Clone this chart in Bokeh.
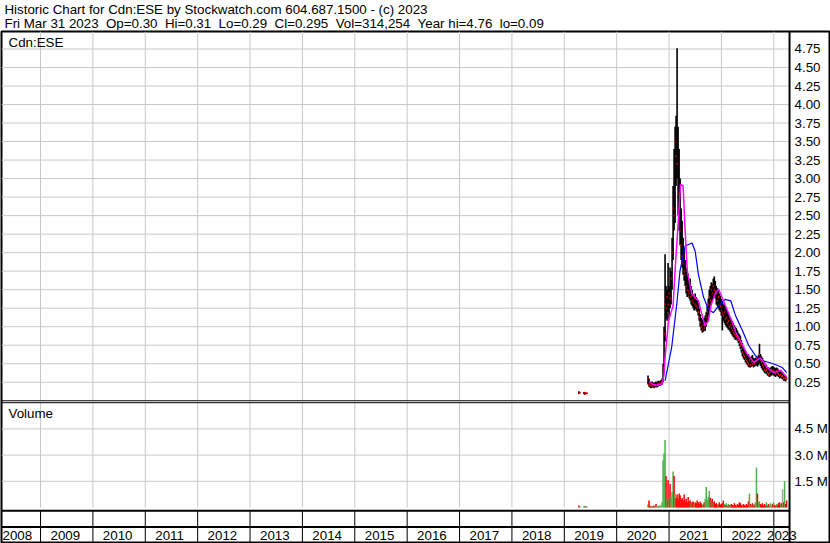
import pandas as pd
from bokeh.plotting import figure
from bokeh.layouts import column
from bokeh.models import (Range1d, LinearAxis, FixedTicker, PrintfTickFormatter,
                          Span, Label)
from bokeh.core.properties import value
from bokeh.embed import file_html
from bokeh.resources import INLINE

# ---------------- data ----------------
header_1 = "Historic Chart for Cdn:ESE by Stockwatch.com 604.687.1500 - (c) 2023"
header_2 = ("Fri Mar 31 2023\u00a0\u00a0Op=0.30\u00a0\u00a0Hi=0.31\u00a0\u00a0Lo=0.29\u00a0\u00a0"
            "Cl=0.295\u00a0\u00a0Vol=314,254\u00a0\u00a0Year hi=4.76\u00a0\u00a0lo=0.09")
symbol = "Cdn:ESE"

years = [2008, 2009, 2010, 2011, 2012, 2013, 2014, 2015, 2016, 2017, 2018, 2019,
         2020, 2021, 2022, 2023]
price_ticks = [0.25, 0.50, 0.75, 1.00, 1.25, 1.50, 1.75, 2.00, 2.25, 2.50, 2.75,
               3.00, 3.25, 3.50, 3.75, 4.00, 4.25, 4.50, 4.75]
vol_ticks = [1.5, 3.0, 4.5]          # millions of shares

# brief trading in spring 2019
blip_dates = ["2019-04-12", "2019-04-19", "2019-05-17", "2019-05-24", "2019-05-31", "2019-06-07"]
blip_hi = [0.13, 0.12, 0.12, 0.12, 0.11, 0.11]
blip_lo = [0.09, 0.10, 0.09, 0.08, 0.09, 0.09]
blip_cl = [0.10, 0.11, 0.10, 0.11, 0.10, 0.10]
blip_vol = [0.12, 0.08, 0.05, 0.10, 0.06, 0.08]

# weekly bars, Fri 2020-08-07 .. Fri 2023-03-31
week_hi = [0.34, 0.30, 0.26, 0.25, 0.26, 0.25, 0.24, 0.25, 0.26, 0.25,
           0.27, 0.26, 0.27, 0.28, 0.30, 0.50, 1.00, 1.98, 1.55, 1.50,
           1.86, 1.55, 1.80, 1.75, 2.20, 2.90, 3.40, 3.70, 3.85, 4.76,
           3.70, 3.40, 3.00, 2.60, 2.43, 2.20, 2.05, 1.90, 1.80, 1.75,
           1.72, 1.60, 1.65, 1.55, 1.50, 1.44, 1.42, 1.45, 1.40, 1.38,
           1.32, 1.25, 1.17, 1.12, 1.10, 1.08, 1.12, 1.15, 1.20, 1.28,
           1.38, 1.50, 1.55, 1.60, 1.58, 1.65, 1.68, 1.62, 1.55, 1.52,
           1.50, 1.45, 1.42, 1.38, 1.35, 1.30, 1.32, 1.28, 1.25, 1.22,
           1.20, 1.15, 1.12, 1.10, 1.08, 1.05, 1.02, 1.00, 0.98, 0.95,
           0.92, 0.90, 0.88, 0.82, 0.78, 0.74, 0.70, 0.68, 0.65, 0.63,
           0.63, 0.60, 0.58, 0.60, 0.62, 0.58, 0.57, 0.58, 0.60, 0.58,
           0.62, 0.77, 0.63, 0.60, 0.58, 0.55, 0.52, 0.50, 0.48, 0.46,
           0.45, 0.44, 0.45, 0.46, 0.47, 0.46, 0.45, 0.44, 0.45, 0.44,
           0.42, 0.41, 0.42, 0.40, 0.38, 0.36, 0.35, 0.33, 0.31]
week_lo = [0.22, 0.19, 0.18, 0.17, 0.18, 0.18, 0.17, 0.18, 0.19, 0.18,
           0.19, 0.20, 0.20, 0.21, 0.22, 0.25, 0.45, 0.80, 1.10, 1.08,
           1.20, 1.10, 1.25, 1.30, 1.50, 1.90, 2.30, 2.40, 2.90, 3.00,
           2.50, 2.30, 2.10, 1.90, 1.80, 1.70, 1.62, 1.55, 1.45, 1.40,
           1.42, 1.38, 1.35, 1.30, 1.28, 1.25, 1.22, 1.24, 1.22, 1.20,
           1.15, 1.08, 1.00, 0.95, 0.92, 0.93, 0.95, 0.94, 1.00, 1.05,
           1.12, 1.20, 1.28, 1.32, 1.35, 1.38, 1.40, 1.38, 1.30, 1.28,
           1.25, 1.22, 1.20, 1.15, 0.95, 1.08, 1.05, 1.02, 1.00, 0.98,
           0.96, 0.95, 0.93, 0.90, 0.88, 0.86, 0.84, 0.82, 0.83, 0.81,
           0.78, 0.74, 0.70, 0.65, 0.60, 0.57, 0.55, 0.52, 0.50, 0.48,
           0.46, 0.45, 0.45, 0.46, 0.47, 0.45, 0.46, 0.47, 0.48, 0.46,
           0.48, 0.50, 0.47, 0.44, 0.42, 0.40, 0.38, 0.37, 0.36, 0.34,
           0.33, 0.32, 0.33, 0.34, 0.35, 0.34, 0.33, 0.32, 0.34, 0.33,
           0.32, 0.30, 0.31, 0.30, 0.29, 0.27, 0.27, 0.26, 0.29]
week_cl = [0.30, 0.22, 0.21, 0.20, 0.22, 0.21, 0.20, 0.22, 0.21, 0.22,
           0.23, 0.22, 0.24, 0.24, 0.26, 0.45, 0.90, 1.30, 1.25, 1.40,
           1.30, 1.45, 1.38, 1.65, 2.00, 2.60, 2.50, 3.50, 3.30, 3.20,
           2.80, 2.60, 2.30, 2.10, 1.95, 1.85, 1.75, 1.70, 1.55, 1.50,
           1.48, 1.45, 1.40, 1.42, 1.35, 1.32, 1.38, 1.30, 1.28, 1.25,
           1.20, 1.12, 1.05, 1.00, 0.96, 1.02, 0.98, 1.05, 1.12, 1.20,
           1.30, 1.40, 1.35, 1.50, 1.45, 1.55, 1.50, 1.48, 1.45, 1.35,
           1.40, 1.30, 1.28, 1.22, 1.18, 1.15, 1.20, 1.10, 1.12, 1.05,
           1.08, 1.00, 1.02, 0.98, 0.95, 0.92, 0.90, 0.88, 0.86, 0.85,
           0.82, 0.78, 0.75, 0.70, 0.66, 0.62, 0.60, 0.56, 0.54, 0.52,
           0.50, 0.55, 0.48, 0.52, 0.50, 0.52, 0.50, 0.54, 0.58, 0.55,
           0.58, 0.62, 0.55, 0.52, 0.48, 0.45, 0.42, 0.40, 0.42, 0.38,
           0.36, 0.38, 0.40, 0.42, 0.40, 0.41, 0.38, 0.37, 0.40, 0.38,
           0.36, 0.34, 0.35, 0.33, 0.33, 0.30, 0.31, 0.30, 0.295]
week_vol = [0.17, 0.40, 0.08, 0.05, 0.10, 0.06, 0.12, 0.05, 0.20, 0.08,
            0.10, 0.05, 0.15, 0.10, 0.30, 2.70, 3.10, 3.87, 1.80, 0.45,
            1.56, 0.50, 1.35, 0.60, 0.90, 2.06, 1.80, 0.80, 0.55, 0.75,
            0.50, 0.80, 0.70, 0.45, 0.55, 0.40, 0.75, 0.35, 0.50, 0.30,
            0.60, 0.35, 0.40, 0.25, 0.30, 0.35, 0.20, 0.30, 0.25, 0.40,
            0.30, 0.20, 0.35, 0.25, 0.15, 0.20, 0.30, 0.50, 1.17, 0.45,
            0.60, 0.95, 0.55, 0.40, 0.50, 0.30, 0.35, 0.20, 0.25, 0.15,
            0.20, 0.30, 0.15, 0.20, 0.25, 0.40, 0.20, 0.15, 0.25, 0.10,
            0.20, 0.15, 0.10, 0.20, 0.15, 0.10, 0.25, 0.15, 0.10, 0.20,
            0.15, 0.30, 0.25, 0.15, 0.10, 0.20, 0.15, 0.10, 0.20, 0.15,
            0.35, 0.80, 0.20, 0.15, 0.25, 0.20, 0.15, 0.30, 2.29, 0.80,
            0.30, 0.35, 0.20, 0.15, 0.25, 0.10, 0.20, 0.15, 0.30, 0.10,
            0.20, 0.15, 0.25, 0.10, 0.20, 0.30, 0.15, 0.10, 0.20, 0.15,
            0.25, 0.30, 0.20, 0.25, 1.04, 0.30, 1.52, 0.20, 0.40]

# fast (magenta) and slow (blue) moving averages
ma_fast_dates = ["2020-08-14", "2020-09-11", "2020-10-16", "2020-11-13", "2020-11-27",
                 "2020-12-05", "2020-12-28", "2021-01-11", "2021-01-29", "2021-02-13",
                 "2021-03-02", "2021-03-22", "2021-04-09", "2021-04-23", "2021-05-08",
                 "2021-05-28", "2021-06-10", "2021-07-24", "2021-08-20", "2021-09-09",
                 "2021-10-01", "2021-10-22", "2021-11-17", "2021-12-12", "2022-01-15",
                 "2022-02-11", "2022-03-14", "2022-04-11", "2022-05-12", "2022-06-29",
                 "2022-08-15", "2022-10-01", "2022-11-14", "2022-12-31", "2023-02-17",
                 "2023-03-31"]
ma_fast = [0.26, 0.22, 0.21, 0.23, 0.35, 0.60, 1.08, 1.17, 1.28, 1.80,
           2.30, 2.92, 2.90, 2.30, 1.75, 1.55, 1.44, 1.35, 1.15, 1.01,
           1.08, 1.30, 1.44, 1.51, 1.35, 1.22, 1.08, 0.92, 0.81, 0.63,
           0.52, 0.58, 0.45, 0.38, 0.41, 0.32]
ma_slow_dates = ["2020-12-04", "2021-01-19", "2021-02-24", "2021-03-18", "2021-04-23",
                 "2021-06-10", "2021-07-02", "2021-07-24", "2021-08-29", "2021-10-01",
                 "2021-11-06", "2021-12-12", "2022-01-26", "2022-03-07", "2022-04-09",
                 "2022-05-27", "2022-07-09", "2022-08-26", "2022-10-12", "2022-11-25",
                 "2023-01-11", "2023-02-28", "2023-03-31"]
ma_slow = [0.27, 0.72, 1.31, 1.75, 2.09, 2.13, 2.02, 1.71, 1.40, 1.24,
           1.19, 1.28, 1.37, 1.35, 1.15, 0.95, 0.75, 0.61, 0.54, 0.52,
           0.49, 0.45, 0.38]


def dec_year(dates):
    d = pd.to_datetime(pd.Series(list(dates)))
    start = pd.to_datetime(d.dt.year.astype(str) + "-01-01")
    ndays = 365 + d.dt.is_leap_year.astype(int)
    return (d.dt.year + (d - start).dt.days / ndays).tolist()


week_dates = pd.date_range("2020-08-07", "2023-03-31", freq="W-FRI")
bar_x = dec_year(blip_dates) + dec_year(week_dates)
bar_hi = blip_hi + week_hi
bar_lo = blip_lo + week_lo
bar_cl = blip_cl + week_cl
bar_vol = blip_vol + week_vol

GREEN, RED, GREY = "#4cb34c", "#ff0000", "#a0a0a0"
vol_color = []
for k, c in enumerate(bar_cl):
    prev = bar_cl[k - 1] if k else bar_hi[0]
    vol_color.append(GREEN if c > prev else RED if c < prev else GREY)

# ---------------- layout ----------------
W = 830
H_HEAD = 30
H_MAIN = 513
X0, X1 = 2008.255, 2024.063      # frame extent (data area + label column)
X_SEP = 2023.30                  # right edge of data area
P_TOP, V_TOP = 4.986, 6.0
FONT = "Liberation Sans"
FS = "13.33px"
GRID = "#c8c8c8"

head = figure(width=W, height=H_HEAD, x_range=Range1d(0, W), y_range=Range1d(0, H_HEAD),
              x_axis_type=None, y_axis_type=None, toolbar_location=None,
              output_backend="svg", min_border=0, outline_line_color=None)
for txt, yy in ((header_1, 28.8), (header_2, 15.0)):
    head.add_layout(Label(x=3, y=yy, text=txt, text_font=FONT, text_font_size=FS,
                          text_color="black", text_baseline="top"))

p = figure(width=W, height=H_MAIN, x_range=Range1d(X0, X1), y_range=Range1d(-1.927, P_TOP),
           x_axis_type=None, y_axis_type=None, toolbar_location=None, output_backend="svg",
           min_border_left=1, min_border_right=1, min_border_top=1, min_border_bottom=0,
           outline_line_color="black", outline_line_width=2)
p.extra_y_ranges = {"vol": Range1d(-2.06, 27.25), "strip": Range1d(0, 31.22)}

bounds = years[1:]
# grids
p.segment(x0=[X0] * len(price_ticks), x1=[X_SEP] * len(price_ticks), y0=price_ticks,
          y1=price_ticks, line_color=GRID, line_width=1)
p.segment(x0=bounds, x1=bounds, y0=[0] * len(bounds), y1=[P_TOP] * len(bounds),
          line_color=GRID, line_width=1)
p.segment(x0=[X0] * len(vol_ticks), x1=[X_SEP] * len(vol_ticks), y0=vol_ticks, y1=vol_ticks,
          line_color=GRID, line_width=1, y_range_name="vol")
p.segment(x0=bounds, x1=bounds, y0=[0] * len(bounds), y1=[V_TOP] * len(bounds),
          line_color=GRID, line_width=1, y_range_name="vol")

# volume
p.vbar(x=bar_x, top=bar_vol, bottom=0, width=1.5 / 52, fill_color=vol_color,
       line_color=None, y_range_name="vol")

# price bars
p.segment(x0=bar_x, x1=bar_x, y0=bar_lo, y1=bar_hi, line_color="black", line_width=1.6)
p.rect(x=bar_x, y=bar_cl, width=1.0 / 52, height=2, height_units="screen",
       fill_color="red", line_color=None)
p.line(dec_year(ma_slow_dates), ma_slow, line_color="#0000ff", line_width=1.2)
p.line(dec_year(ma_fast_dates), ma_fast, line_color="#ff00ff", line_width=1.5)

# panel borders
p.segment(x0=[X0], x1=[X_SEP], y0=[0], y1=[0], line_color="black", line_width=1)
p.segment(x0=[X0], x1=[X_SEP], y0=[V_TOP], y1=[V_TOP], line_color="black", line_width=1,
          y_range_name="vol")
p.segment(x0=[X0, X0], x1=[X_SEP, X_SEP], y0=[2, 1], y1=[2, 1], line_color="black",
          line_width=2, y_range_name="strip")
p.segment(x0=bounds, x1=bounds, y0=[0] * len(bounds), y1=[2] * len(bounds),
          line_color="black", line_width=1, y_range_name="strip")

# year labels
lab_x = [min(max(y + 0.19, X0 + 0.02), X_SEP - 0.43) for y in years]
p.text(x=lab_x, y=[0.5] * len(years), text=[str(y) for y in years], y_range_name="strip",
       text_font=value(FONT), text_font_size=FS, text_color="black",
       text_align="left", text_baseline="middle")

p.add_layout(Span(location=X_SEP, dimension="height", line_color="black", line_width=2))

# panel captions
p.add_layout(Label(x=X0, y=P_TOP, x_offset=7, y_offset=-3, text=symbol, text_font=FONT,
                   text_font_size=FS, text_color="black", text_baseline="top"))
p.add_layout(Label(x=X0, y=V_TOP, y_range_name="vol", x_offset=7, y_offset=-3, text="Volume",
                   text_font=FONT, text_font_size=FS, text_color="black",
                   text_baseline="top"))

# right-hand axes drawn at the data-area edge
pa = LinearAxis(fixed_location=X_SEP, ticker=FixedTicker(ticks=price_ticks),
                formatter=PrintfTickFormatter(format="%.2f"))
va = LinearAxis(fixed_location=X_SEP, y_range_name="vol", ticker=FixedTicker(ticks=vol_ticks),
                formatter=PrintfTickFormatter(format="%.1f M"))
for ax in (pa, va):
    ax.axis_line_color = None
    ax.major_tick_line_color = None
    ax.minor_tick_line_color = None
    ax.major_tick_out = 0
    ax.major_label_standoff = 5
    ax.major_label_text_font = FONT
    ax.major_label_text_font_size = FS
    ax.major_label_text_color = "black"
    p.add_layout(ax, "right")

layout = column(head, p)
open("out.html", "w").write(file_html(layout, INLINE))
